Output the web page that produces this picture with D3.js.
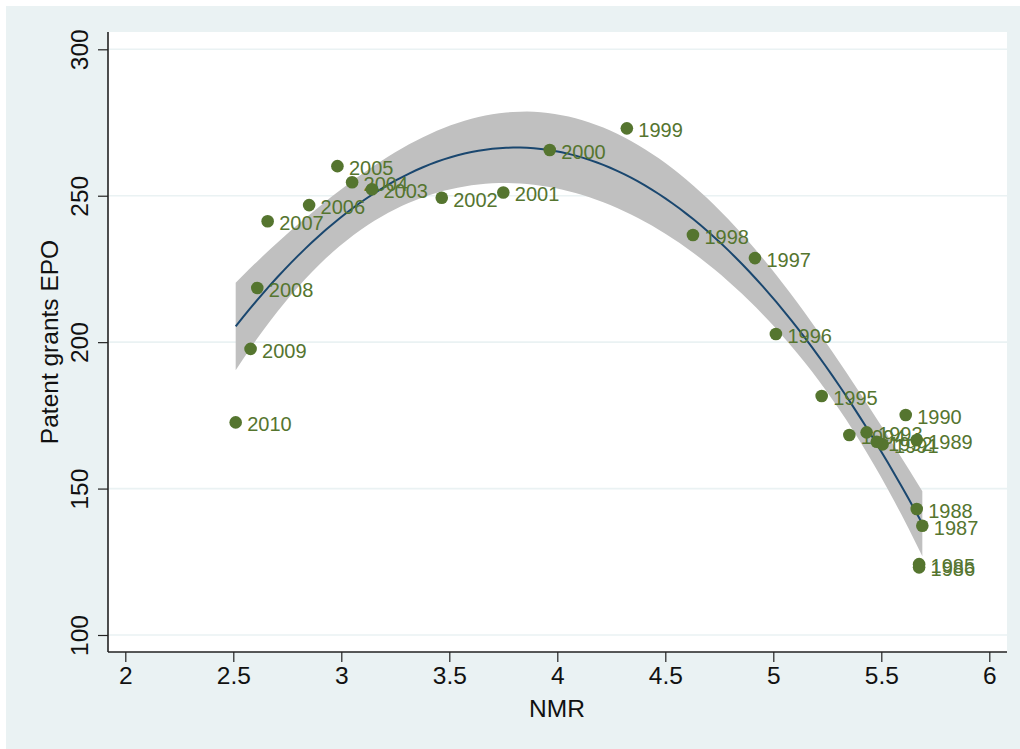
<!DOCTYPE html>
<html><head><meta charset="utf-8">
<script src="https://cdn.jsdelivr.net/npm/d3@7"></script>
<style>
html,body{margin:0;padding:0;background:#fff;}
svg{display:block;font-family:"Liberation Sans",Arial,Helvetica,sans-serif;}
</style></head>
<body>
<script>
// ---- data ----
const years = [1985,1986,1987,1988,1989,1990,1991,1992,1993,1994,1995,1996,1997,1998,1999,2000,2001,2002,2003,2004,2005,2006,2007,2008,2009,2010];
const nmr   = [5.675,5.675,5.690,5.664,5.664,5.613,5.506,5.479,5.432,5.352,5.224,5.012,4.915,4.628,4.322,3.965,3.750,3.465,3.142,3.050,2.982,2.851,2.659,2.611,2.580,2.511];
const epo   = [124.2,123.1,137.3,143.0,166.6,175.1,165.1,166.0,169.2,168.3,181.6,202.8,228.7,236.6,273.0,265.6,251.1,249.3,252.2,254.6,260.1,246.8,241.3,218.5,197.7,172.6];
const xTicks = [2,2.5,3,3.5,4,4.5,5,5.5,6];
const yTicks = [100,150,200,250,300];
const xTitle = "NMR";
const yTitle = "Patent grants EPO";

const W = 1020, H = 749;
const svg = d3.select("body").append("svg").attr("width", W).attr("height", H);

// graph region
svg.append("rect").attr("x",6).attr("y",6).attr("width",W-6).attr("height",H-6).attr("fill","#eaf2f3");
// plot region
const PL = 108, PR = 1007, PT = 32, PB = 652;
svg.append("rect").attr("x",PL).attr("y",PT).attr("width",PR-PL).attr("height",PB-PT).attr("fill","#ffffff");

const x = d3.scaleLinear().domain([2,6]).range([125.3,989.3]);
const y = d3.scaleLinear().domain([100,300]).range([635,49.3]);

// gridlines
svg.append("g").selectAll("line").data(yTicks).join("line")
  .attr("x1",PL).attr("x2",PR).attr("y1",d=>y(d)).attr("y2",d=>y(d))
  .attr("stroke","#eaf2f3").attr("stroke-width",1.6);

// ---- quadratic fit with 95% CI of the mean (qfitci) ----
const n = nmr.length;
const X = nmr.map(v=>[1,v,v*v]);
function matMulT(A){ // A'A
  const m = A[0].length, R = Array.from({length:m},()=>Array(m).fill(0));
  A.forEach(r=>{for(let i=0;i<m;i++)for(let j=0;j<m;j++)R[i][j]+=r[i]*r[j];});
  return R;
}
function inv3(M){
  const [a,b,c]=M[0],[d,e,f]=M[1],[g,h,i]=M[2];
  const A=e*i-f*h,B=-(d*i-f*g),C=d*h-e*g;
  const det=a*A+b*B+c*C;
  return [[A/det,-(b*i-c*h)/det,(b*f-c*e)/det],
          [B/det,(a*i-c*g)/det,-(a*f-c*d)/det],
          [C/det,-(a*h-b*g)/det,(a*e-b*d)/det]];
}
const XtXi = inv3(matMulT(X));
const Xty = [0,0,0];
X.forEach((r,k)=>{for(let i=0;i<3;i++)Xty[i]+=r[i]*epo[k];});
const beta = [0,1,2].map(i=>XtXi[i][0]*Xty[0]+XtXi[i][1]*Xty[1]+XtXi[i][2]*Xty[2]);
let sse=0; X.forEach((r,k)=>{const p=beta[0]+beta[1]*r[1]+beta[2]*r[2]; sse+=(epo[k]-p)**2;});
const s2 = sse/(n-3);
const tcrit = 2.0687; // t(0.975, 23)
const xmin = d3.min(nmr), xmax = d3.max(nmr);
const grid = d3.range(100).map(i=>xmin+(xmax-xmin)*i/99);
const fit = grid.map(v=>{
  const r=[1,v,v*v];
  let q=0; for(let i=0;i<3;i++)for(let j=0;j<3;j++)q+=r[i]*XtXi[i][j]*r[j];
  const p=beta[0]+beta[1]*v+beta[2]*v*v, se=Math.sqrt(s2*q);
  return {x:v,p,lo:p-tcrit*se,hi:p+tcrit*se};
});

svg.append("path").datum(fit)
  .attr("d",d3.area().x(d=>x(d.x)).y0(d=>y(d.lo)).y1(d=>y(d.hi)))
  .attr("fill","#c0c0c0");
svg.append("path").datum(fit)
  .attr("d",d3.line().x(d=>x(d.x)).y(d=>y(d.p)))
  .attr("fill","none").attr("stroke","#1a476f").attr("stroke-width",2);

// axes
const xAxis = d3.axisBottom(x).tickValues(xTicks).tickSize(10).tickPadding(5).tickFormat(d3.format("~g"));
const gx = svg.append("g").attr("transform",`translate(0,${PB})`).call(xAxis);
gx.select(".domain").attr("d",`M${PL},0H${PR}`).attr("stroke","#222").attr("stroke-width",1.6);
gx.selectAll(".tick line").attr("stroke","#222").attr("stroke-width",1.2);
gx.selectAll(".tick text").attr("font-size",24.5).attr("fill","#111").attr("font-family","Liberation Sans, Arial, sans-serif");

const yAxis = d3.axisLeft(y).tickValues(yTicks).tickSize(10).tickPadding(0).tickFormat(d3.format("d"));
const gy = svg.append("g").attr("transform",`translate(${PL},0)`).call(yAxis);
gy.select(".domain").attr("d",`M0,${PT}V${PB}`).attr("stroke","#222").attr("stroke-width",1.6);
gy.selectAll(".tick line").attr("stroke","#222").attr("stroke-width",1.2);
gy.selectAll(".tick text")
  .attr("font-size",24.5).attr("fill","#111").attr("font-family","Liberation Sans, Arial, sans-serif")
  .attr("x",0).attr("dy",null).attr("text-anchor","middle")
  .attr("transform","translate(-20,0) rotate(-90)");

// axis titles
svg.append("text").attr("x",557).attr("y",717).attr("text-anchor","middle")
  .attr("font-size",24.5).attr("fill","#111").text(xTitle);
svg.append("text").attr("transform",`translate(58,${(PT+PB)/2}) rotate(-90)`).attr("text-anchor","middle")
  .attr("font-size",24.5).attr("fill","#111").text(yTitle);

// points with labels
const pts = years.map((yr,i)=>({yr,x:nmr[i],y:epo[i]}));
const g = svg.append("g").selectAll("g").data(pts).join("g");
g.append("circle").attr("cx",d=>x(d.x)).attr("cy",d=>y(d.y)).attr("r",6.3).attr("fill","#55752f");
g.append("text").attr("x",d=>x(d.x)+11.5).attr("y",d=>y(d.y)+8.8)
  .attr("font-size",20).attr("fill","#55752f").text(d=>d.yr);
</script>
</body></html>
